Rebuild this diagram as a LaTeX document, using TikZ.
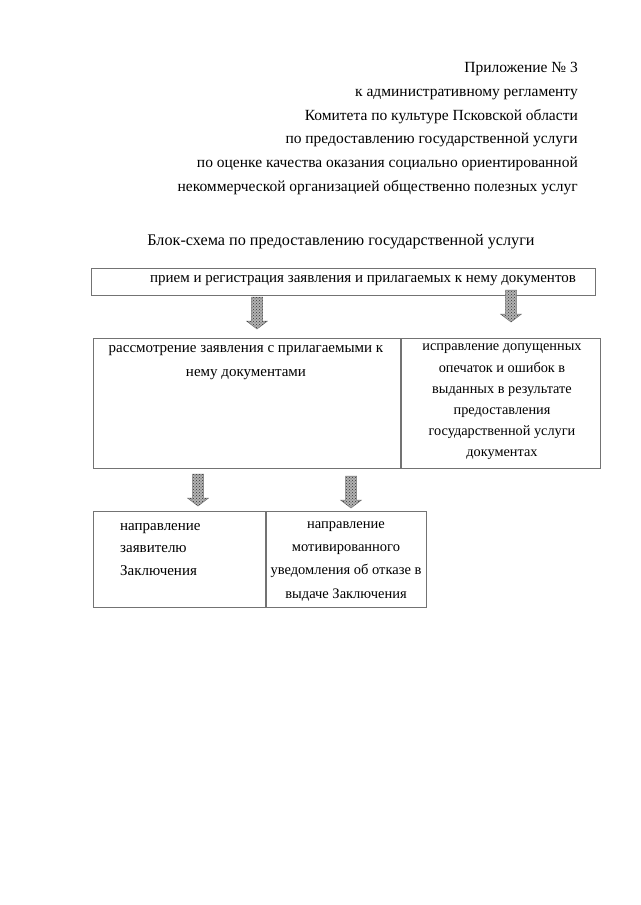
\documentclass[tikz,border=0pt]{standalone}
\usepackage{fontspec}
\setmainfont{Liberation Serif}
\usetikzlibrary{positioning,patterns}

\begin{document}
\begin{tikzpicture}[x=1pt,y=-1pt,
 box/.style={draw=black!55,line width=0.6pt,inner sep=0pt,anchor=north west},
 txt/.style={inner sep=0pt,anchor=north,align=center,font=\fontsize{15}{22}\selectfont},
 blockarr/.style={draw=black!55,line width=0.5pt,fill=black!30,
  postaction={pattern=crosshatch dots,pattern color=black!80}}]
\useasboundingbox (0,0) rectangle (640,905);
% heading
\node[anchor=north east,align=right,inner sep=0pt,font=\fontsize{15.5}{23.8}\selectfont] (head) at (578,62)
 {Приложение № 3\\к административному регламенту\\Комитета по культуре Псковской области\\
  по предоставлению государственной услуги\\по оценке качества оказания социально ориентированной\\
  некоммерческой организацией общественно полезных услуг};
\node[txt,font=\fontsize{16.2}{20}\selectfont] (title) at (341,234) {Блок-схема по предоставлению государственной услуги};
% boxes
\node[box,minimum width=504pt,minimum height=27pt] (reg) at (91,268) {};
\node[box,minimum width=307pt,minimum height=130pt] (exam) at (93,338) {};
\node[box,minimum width=199pt,minimum height=130pt,right=0pt of exam] (fix) {};
\node[box,minimum width=172pt,minimum height=96pt] (send) at (93,511) {};
\node[box,minimum width=160pt,minimum height=96pt,right=0pt of send] (refuse) {};
% texts
\node[txt] (regt) at (363,275) {прием и регистрация заявления и прилагаемых к нему документов};
\node[txt,font=\fontsize{15}{24}\selectfont] (examt) at (246,345)
 {рассмотрение заявления с прилагаемыми к\\нему документами};
\node[txt,font=\fontsize{14.3}{21.2}\selectfont] (fixt) at (502,344)
 {исправление допущенных\\опечаток и ошибок в\\выданных в результате\\предоставления\\государственной услуги\\документах};
\node[txt,anchor=north west,align=left,font=\fontsize{15}{22.5}\selectfont] (sendt) at (120,523)
 {направление\\заявителю\\Заключения};
\node[txt,font=\fontsize{14.5}{23.4}\selectfont] (refuset) at (346,521)
 {направление\\мотивированного\\уведомления об отказе в\\выдаче Заключения};
% block arrows
\coordinate (a1) at (257,297);
\coordinate (a2) at (511,290);
\coordinate (a3) at (198,474);
\coordinate (a4) at (351,476);
\foreach \c in {a1,a2,a3,a4}
 \draw[blockarr] (\c) ++(-5.5,0) -- ++(11,0) -- ++(0,24) -- ++(5,0) -- ++(-10.5,8)
  -- ++(-10.5,-8) -- ++(5,0) -- cycle;
\end{tikzpicture}
\end{document}
